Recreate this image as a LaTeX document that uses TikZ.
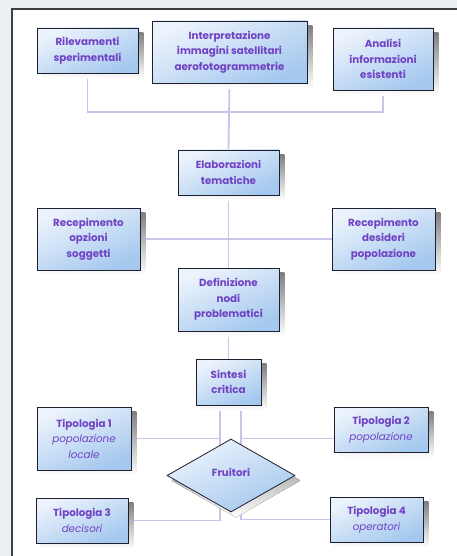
\documentclass[tikz,border=0pt]{standalone}
\usepackage{fontspec}
\setmainfont{Poppins}
\usepackage{xcolor}
\definecolor{ink}{RGB}{112, 66, 196}
\definecolor{edge}{RGB}{30, 32, 48}
\definecolor{wire}{RGB}{204, 194, 236}
\definecolor{boxtop}{RGB}{236, 243, 252}
\definecolor{boxbot}{RGB}{164, 200, 238}
\definecolor{shade}{RGB}{150, 150, 155}
\definecolor{pagebg}{RGB}{236, 240, 244}
\usetikzlibrary{shapes.geometric,backgrounds,positioning}
\newcommand{\sub}[1]{{\mdseries\itshape #1}}

\begin{document}
\begin{tikzpicture}[x=1pt, y=-1pt,
  infobox/.style={draw=edge, line width=0.8pt, top color=boxtop, bottom color=boxbot, shading angle=25, text=ink, align=center, inner sep=2pt,
    font=\fontsize{10.3}{15.5}\selectfont\bfseries},
  choice/.style={infobox, diamond, aspect=1.75, inner sep=0pt},
  link/.style={draw=wire, line width=1.8pt}
]
\useasboundingbox (0,0) rectangle (457,556);

\node[infobox, minimum width=101pt, minimum height=45pt] (ril) at (87.5,50.5) {Rilevamenti\\sperimentali};
\node[infobox, minimum width=155pt, minimum height=62pt] (interp) at (229.5,52) {Interpretazione\\immagini satellitari\\aerofotogrammetrie};
\node[infobox, minimum width=100pt, minimum height=62pt] (anal) at (383,59) {Analisi\\informazioni\\esistenti};
\node[infobox, minimum width=101pt, minimum height=45pt] (elab) at (228.5,172.5) {Elaborazioni\\tematiche};
\node[infobox, minimum width=103pt, minimum height=62pt] (ropz) at (88.5,239) {Recepimento\\opzioni\\soggetti};
\node[infobox, minimum width=103pt, minimum height=62pt] (rdes) at (383.5,239) {Recepimento\\desideri\\popolazione};
\node[infobox, minimum width=101pt, minimum height=63pt] (defn) at (228.5,299.5) {Definizione\\nodi\\problematici};
\node[infobox, minimum width=65pt, minimum height=46pt] (sint) at (228.5,382) {Sintesi\\critica};
\node[infobox, minimum width=94pt, minimum height=63pt] (tip1) at (84,438.5) {Tipologia 1\\\sub{popolazione}\\\sub{locale}};
\node[infobox, minimum width=94pt, minimum height=45pt] (tip2) at (381,429.5) {Tipologia 2\\\sub{popolazione}};
\node[infobox, minimum width=92pt, minimum height=45pt] (tip3) at (82,520.5) {Tipologia 3\\\sub{decisori}};
\node[infobox, minimum width=93pt, minimum height=45pt] (tip4) at (376.5,519.5) {Tipologia 4\\\sub{operatori}};
\node[choice, minimum width=128pt, minimum height=73pt] (fruit) at (231,475.5) {\raisebox{7pt}{Fruitori}};

\coordinate (top) at (229,112);
\coordinate (sl) at (220,405);
\coordinate (sr) at (241,405);

\begin{scope}[on background layer]
\fill[pagebg] (0,0) rectangle (457,556);
\fill[white] (12,9) rectangle (457,556);
\draw[black!75, line width=1.2pt] (457,9) -- (12,9) -- (12,556);
\draw[link] (ril.south) |- (top) -| (anal.south);
\draw[link] (interp.south) -- (elab.north);
\draw[link] (ropz.east) -- (rdes.west);
\draw[link] (elab.south) -- (defn.north);
\draw[link] (defn.south) -- (sint.north);
\draw[link] (sl) |- (tip1.east);
\draw[link] (sl) |- (tip3.east);
\draw[link] (sr) |- (tip2.west |- tip1.east);
\draw[link] (sr) |- (tip4.west);
\foreach \n in {ril,interp,anal,elab,ropz,rdes,defn,sint,tip1,tip2,tip3,tip4}
  \fill[shade] ([shift={(5,5)}]\n.south west) rectangle ([shift={(5,5)}]\n.north east);
\fill[shade] ([shift={(5,5)}]fruit.north) -- ([shift={(5,5)}]fruit.east) -- ([shift={(5,5)}]fruit.south) -- ([shift={(5,5)}]fruit.west) -- cycle;
\end{scope}
\end{tikzpicture}
\end{document}
